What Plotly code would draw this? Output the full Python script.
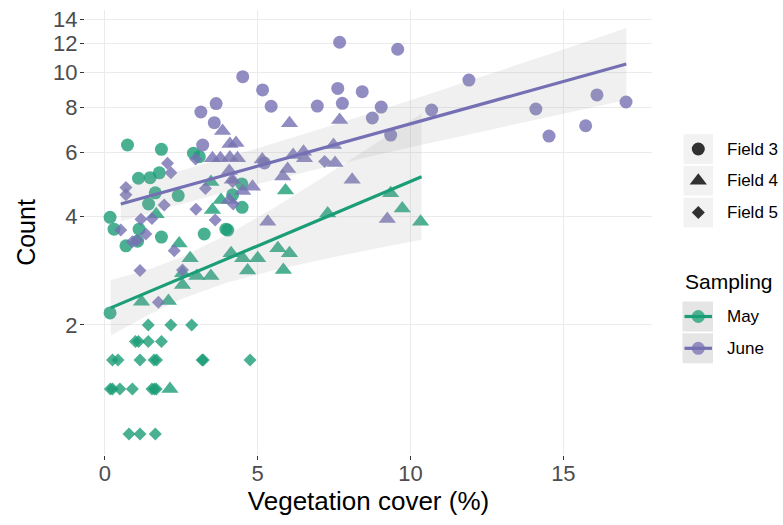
import plotly.graph_objects as go

# ---------------- data ----------------
# May sampling
may_f3_x = [0.17, 0.17, 0.30, 0.69, 0.74, 1.07, 1.12, 1.10, 1.48, 1.78, 1.65, 1.43, 1.85, 1.85,
            2.40, 2.90, 3.09, 3.25, 3.96, 4.02, 4.18, 4.49, 4.48]
may_f3_y = [2.16, 3.97, 3.68, 3.31, 6.29, 3.41, 3.68, 5.09, 5.11, 5.27, 4.64, 4.32, 6.12, 3.50,
            4.56, 5.97, 5.84, 3.57, 3.68, 3.66, 4.58, 4.23, 4.91]
may_f4_x = [1.20, 2.08, 2.54, 3.01, 3.47, 2.13, 1.68, 2.43, 2.79, 2.54, 3.47, 3.80, 3.52, 4.13,
            4.51, 5.00, 4.67, 5.66, 6.04, 5.84, 5.91, 7.29, 9.35, 9.73, 10.33]
may_f4_y = [2.32, 2.33, 2.58, 2.73, 2.73, 1.33, 4.05, 3.36, 3.06, 2.78, 4.97, 4.43, 4.16, 3.16,
            3.06, 3.06, 2.83, 3.26, 3.16, 2.84, 4.71, 4.07, 4.63, 4.20, 3.86]
may_f5_x = [1.42, 2.16, 2.84,
            1.00, 1.10, 1.42, 1.85,
            0.25, 0.43, 1.15, 1.61, 1.69, 3.18, 3.22, 4.75,
            0.18, 0.25, 0.49, 0.90, 1.54, 1.62, 1.68,
            0.79, 1.15, 1.65]
may_f5_y = [2.0, 2.0, 2.0,
            1.8, 1.8, 1.8, 1.8,
            1.6, 1.6, 1.6, 1.6, 1.6, 1.6, 1.6, 1.6,
            1.33, 1.33, 1.33, 1.33, 1.33, 1.33, 1.33,
            1.0, 1.0, 1.0]
# June sampling
june_f3_x = [7.68, 9.58, 4.51, 5.16, 7.62, 8.42, 3.64, 3.14, 5.44, 6.95, 7.77, 9.04, 8.75, 9.35,
             10.69, 11.91, 14.10, 14.53, 15.73, 16.10, 17.05, 3.58, 3.20, 5.22]
june_f3_y = [12.1, 11.57, 9.72, 8.93, 9.02, 8.83, 8.19, 7.76, 8.05, 8.06, 8.20, 8.01, 7.47, 6.70,
             7.86, 9.51, 7.91, 6.66, 7.11, 8.65, 8.27, 7.25, 6.29, 5.61]
june_f4_x = [3.85, 4.09, 4.29, 3.52, 3.78, 4.09, 4.34, 4.07, 4.17, 4.51, 4.83, 5.15, 4.07, 5.33,
             5.82, 5.98, 6.16, 6.50, 6.53, 6.04, 7.68, 7.48, 7.53, 8.09, 9.24]
june_f4_y = [6.88, 6.33, 6.37, 5.78, 5.78, 5.81, 5.78, 5.33, 5.04, 4.69, 4.82, 5.74, 4.43, 3.86,
             5.15, 5.40, 5.90, 6.03, 5.78, 7.22, 7.38, 6.29, 5.61, 5.04, 3.93]
june_f5_x = [2.05, 2.16, 0.69, 0.69, 1.94, 2.98, 1.18, 1.54, 0.52, 1.34, 0.90, 1.06, 2.27, 1.15,
             1.75, 3.29, 3.61, 2.97, 7.19, 2.54, 4.18, 4.20]
june_f5_y = [5.60, 5.27, 4.80, 4.58, 4.29, 4.18, 3.92, 3.94, 3.66, 3.57, 3.40, 3.43, 3.21, 2.83,
             2.31, 4.77, 3.90, 5.75, 5.66, 2.84, 4.98, 4.32]

# fitted lines and confidence bands (log scale fits)
may_fit_x = [0.19, 10.36]
may_fit_y = [2.23, 5.14]
may_band_x = [0.19, 1.5, 2.5, 4.0, 5.5, 7.0, 8.5, 10.36]
may_band_lo = [1.87, 2.15, 2.36, 2.62, 2.83, 3.02, 3.21, 3.44]
may_band_hi = [2.66, 2.86, 3.08, 3.55, 4.20, 5.03, 6.07, 7.69]
june_fit_x = [0.52, 17.06]
june_fit_y = [4.32, 10.53]
june_band_x = [0.52, 2.5, 5.0, 7.5, 10.0, 12.5, 15.0, 17.06]
june_band_lo = [3.87, 4.32, 4.91, 5.54, 6.20, 6.91, 7.68, 8.38]
june_band_hi = [4.83, 5.35, 6.16, 7.15, 8.36, 9.82, 11.56, 13.25]

x_ticks = [0, 5, 10, 15]
y_ticks = [2, 4, 6, 8, 10, 12, 14]
field_labels = ["Field 3", "Field 4", "Field 5"]
sampling_labels = ["May", "June"]

# ---------------- styling ----------------
GREEN = "#1B9E77"
PURPLE = "#7570B3"
FONT = "Liberation Sans, Arial, sans-serif"
SYM = {"Field 3": ("circle", 13), "Field 4": ("triangle-up", 15), "Field 5": ("diamond", 10)}

fig = go.Figure()

groups = [
    (may_f3_x, may_f3_y, GREEN, "Field 3"), (may_f4_x, may_f4_y, GREEN, "Field 4"),
    (may_f5_x, may_f5_y, GREEN, "Field 5"),
    (june_f3_x, june_f3_y, PURPLE, "Field 3"), (june_f4_x, june_f4_y, PURPLE, "Field 4"),
    (june_f5_x, june_f5_y, PURPLE, "Field 5"),
]
for gx, gy, col, fld in groups:
    sym, sz = SYM[fld]
    fig.add_trace(go.Scatter(x=gx, y=gy, mode="markers", showlegend=False, hoverinfo="skip",
                             marker=dict(symbol=sym, size=sz, color=col, opacity=0.8,
                                         line=dict(width=0))))

for bx, lo, hi in [(may_band_x, may_band_lo, may_band_hi), (june_band_x, june_band_lo, june_band_hi)]:
    fig.add_trace(go.Scatter(x=bx + bx[::-1], y=hi + lo[::-1], mode="lines", fill="toself",
                             fillcolor="rgba(153,153,153,0.15)", line=dict(width=0),
                             showlegend=False, hoverinfo="skip"))
for fx, fy, col in [(may_fit_x, may_fit_y, GREEN), (june_fit_x, june_fit_y, PURPLE)]:
    fig.add_trace(go.Scatter(x=fx, y=fy, mode="lines", line=dict(color=col, width=3.2),
                             showlegend=False, hoverinfo="skip"))

# ---------------- legend (drawn in a pixel-like overlay axis) ----------------
shapes = []
annotations = []
key_x0, key_x1, key_cx = 683.5, 713.0, 698.3
field_keys_y = [149, 180.7, 212.5]
for lab, cy in zip(field_labels, field_keys_y):
    shapes.append(dict(type="rect", xref="x2", yref="y2", x0=key_x0, x1=key_x1,
                       y0=cy - 14.8, y1=cy + 14.8, fillcolor="#F2F2F2", line=dict(width=0),
                       layer="below"))
    sym, sz = SYM[lab]
    fig.add_trace(go.Scatter(x=[key_cx], y=[cy], xaxis="x2", yaxis="y2", mode="markers",
                             showlegend=False, hoverinfo="skip", cliponaxis=False,
                             marker=dict(symbol=sym, size=sz, color="rgba(0,0,0,0.8)",
                                         line=dict(width=0))))
    annotations.append(dict(x=725.0, y=cy, xref="x2", yref="y2", text=lab, showarrow=False,
                            xanchor="left", yanchor="middle",
                            font=dict(family=FONT, size=17, color="black")))

annotations.append(dict(x=682.5, y=281.5, xref="x2", yref="y2", text="Sampling", showarrow=False,
                        xanchor="left", yanchor="middle",
                        font=dict(family=FONT, size=21, color="black")))
samp_keys_y = [316.5, 348.3]
for lab, cy, col in zip(sampling_labels, samp_keys_y, [GREEN, PURPLE]):
    shapes.append(dict(type="rect", xref="x2", yref="y2", x0=key_x0 - 1, x1=key_x1,
                       y0=cy - 15, y1=cy + 15, fillcolor="#E5E5E5", line=dict(width=0),
                       layer="below"))
    fig.add_trace(go.Scatter(x=[key_x0 + 1, key_x1 - 1], y=[cy, cy], xaxis="x2", yaxis="y2",
                             mode="lines", line=dict(color=col, width=3.2), showlegend=False,
                             hoverinfo="skip", cliponaxis=False))
    fig.add_trace(go.Scatter(x=[key_cx], y=[cy], xaxis="x2", yaxis="y2", mode="markers",
                             showlegend=False, hoverinfo="skip", cliponaxis=False,
                             marker=dict(symbol="circle", size=13, color=col, opacity=0.75,
                                         line=dict(width=0))))
    annotations.append(dict(x=725.0, y=cy, xref="x2", yref="y2", text=lab, showarrow=False,
                            xanchor="left", yanchor="middle",
                            font=dict(family=FONT, size=17, color="black")))

L, R, T, B = 85, 0, 10, 70
W, H = 783, 525
panel_right = 652
dom_split = (panel_right - L) / (W - L - R)

fig.update_layout(
    width=W, height=H, margin=dict(l=L, r=R, t=T, b=B, pad=0),
    paper_bgcolor="white", plot_bgcolor="white",
    font=dict(family=FONT),
    shapes=shapes, annotations=annotations,
    xaxis=dict(domain=[0, dom_split], range=[-0.65, 17.9], tickmode="array", tickvals=x_ticks,
               ticktext=[str(v) for v in x_ticks], showgrid=True, gridcolor="#EBEBEB",
               gridwidth=1.2, zeroline=False, showline=False, ticks="outside", ticklen=4,
               tickwidth=1.1, tickcolor="#333333", ticklabelstandoff=-5,
               tickfont=dict(family=FONT, size=22, color="#4D4D4D"),
               title=dict(text="Vegetation cover (%)", standoff=6,
                          font=dict(family=FONT, size=26, color="black"))),
    yaxis=dict(type="log", range=[-0.0584, 1.1719], tickmode="array", tickvals=y_ticks,
               ticktext=[str(v) for v in y_ticks], showgrid=True, gridcolor="#EBEBEB",
               gridwidth=1.2, zeroline=False, showline=False, ticks="outside", ticklen=4,
               tickwidth=1.1, tickcolor="#333333", ticklabelstandoff=-2,
               tickfont=dict(family=FONT, size=22, color="#4D4D4D"),
               title=dict(text="Count", standoff=10,
                          font=dict(family=FONT, size=25, color="black"))),
    xaxis2=dict(domain=[dom_split, 1], range=[panel_right, W], visible=False, fixedrange=True),
    yaxis2=dict(domain=[0, 1], range=[H - B, T], visible=False, anchor="x2", fixedrange=True),
)

fig.write_html("out.html", config={"displayModeBar": False},
               post_script="document.body.style.margin='0';")
